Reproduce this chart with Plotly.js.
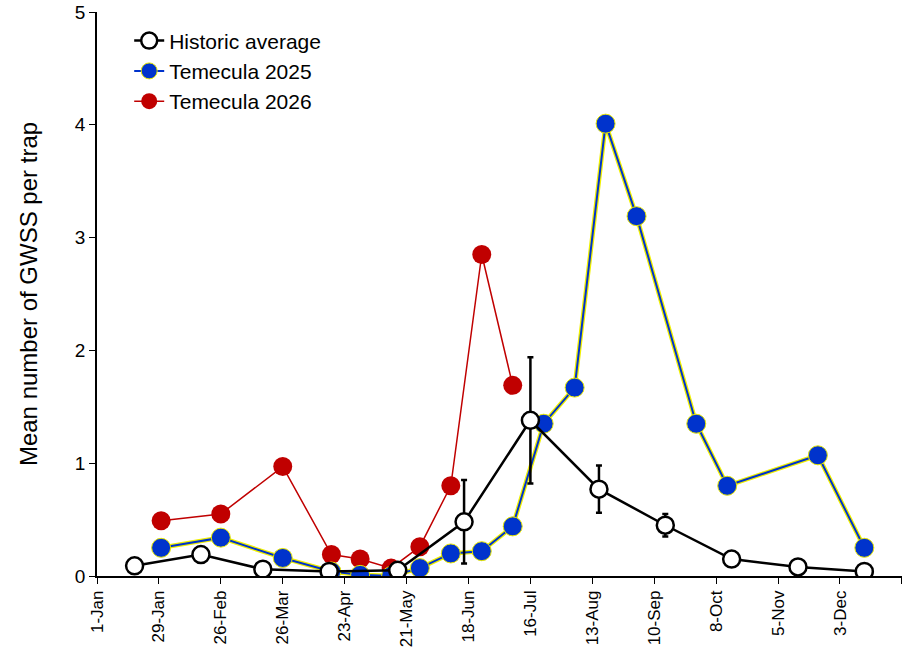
<!DOCTYPE html>
<html>
<head>
<meta charset="utf-8">
<script src="https://cdn.plot.ly/plotly-3.0.1.min.js"></script>
<style>body{margin:0;background:#fff}#chart{width:910px;height:661px}</style>
</head>
<body>
<div id="chart"></div>
<script>
// Dates mapped onto one calendar year
const histDates = ["2025-01-18","2025-02-17","2025-03-17","2025-04-16","2025-05-17","2025-06-16","2025-07-16","2025-08-16","2025-09-15","2025-10-15","2025-11-14","2025-12-14"];
const histMean = [0.09, 0.19, 0.06, 0.04, 0.05, 0.48, 1.38, 0.77, 0.45, 0.15, 0.08, 0.04];
const histErr = [0, 0.04, 0, 0, 0, 0.37, 0.56, 0.21, 0.1, 0, 0, 0];

const t25Dates = ["2025-01-30","2025-02-26","2025-03-26","2025-04-17","2025-04-30","2025-05-14","2025-05-27","2025-06-10","2025-06-24","2025-07-08","2025-07-22","2025-08-05","2025-08-19","2025-09-02","2025-09-29","2025-10-13","2025-11-23","2025-12-14"];
const t25Mean = [0.25, 0.34, 0.16, 0.04, 0.01, 0.0, 0.07, 0.2, 0.22, 0.44, 1.35, 1.67, 4.01, 3.19, 1.35, 0.80, 1.07, 0.25];

const t26Dates = ["2025-01-30","2025-02-26","2025-03-26","2025-04-17","2025-04-30","2025-05-14","2025-05-27","2025-06-10","2025-06-24","2025-07-08"];
const t26Mean = [0.49, 0.55, 0.97, 0.19, 0.15, 0.07, 0.26, 0.80, 2.85, 1.69];

const font = "Liberation Sans, Arial, sans-serif";

const traces = [
  {x: t26Dates, y: t26Mean, name: "Temecula 2026", mode: "lines+markers", legendgroup: "c",
   line: {color: "#c00000", width: 1.5}, marker: {color: "#c00000", size: 19}},
  {x: t25Dates, y: t25Mean, mode: "lines", showlegend: false, hoverinfo: "skip",
   line: {color: "#f0f000", width: 4.5}},
  {x: t25Dates, y: t25Mean, name: "Temecula 2025", mode: "lines+markers", legendgroup: "b",
   line: {color: "#0033cc", width: 2}, marker: {color: "#0033cc", size: 19, line: {color: "#e8e800", width: 1}}},
  {x: histDates, y: histMean, name: "Historic average", mode: "lines+markers", legendgroup: "a",
   line: {color: "#000", width: 2.5},
   error_y: {type: "data", array: histErr, visible: true, color: "#000", thickness: 2.5, width: 3},
   marker: {color: "#fff", size: 17, line: {color: "#000", width: 2.5}}}
];

const layout = {
  width: 910, height: 661,
  margin: {l: 97, r: 8, t: 12, b: 85},
  paper_bgcolor: "#fff", plot_bgcolor: "#fff",
  font: {family: font, size: 18, color: "#000"},
  showlegend: true,
  legend: {x: 0.04, y: 0.985, xanchor: "left", yanchor: "top", traceorder: "reversed",
    font: {size: 21}, bgcolor: "rgba(0,0,0,0)", itemwidth: 30, tracegroupgap: 18},
  xaxis: {type: "date", range: ["2025-01-01", "2025-12-31 01:00"], tick0: "2025-01-01",
    dtick: 28 * 86400000, tickformat: "%-d-%b", tickangle: -90,
    showgrid: false, zeroline: false, showline: true, linecolor: "#000", linewidth: 1.5,
    ticks: "outside", ticklen: 6, tickcolor: "#000", tickfont: {size: 17}},
  yaxis: {range: [0, 5], dtick: 1, showgrid: false, zeroline: false,
    showline: true, linecolor: "#000", linewidth: 1.5, ticks: "outside", ticklen: 6,
    tickcolor: "#000", tickfont: {size: 19},
    title: {text: "Mean number of GWSS per trap", font: {size: 24}, standoff: 30}}
};

Plotly.newPlot("chart", traces, layout, {displayModeBar: false});
</script>
</body>
</html>
